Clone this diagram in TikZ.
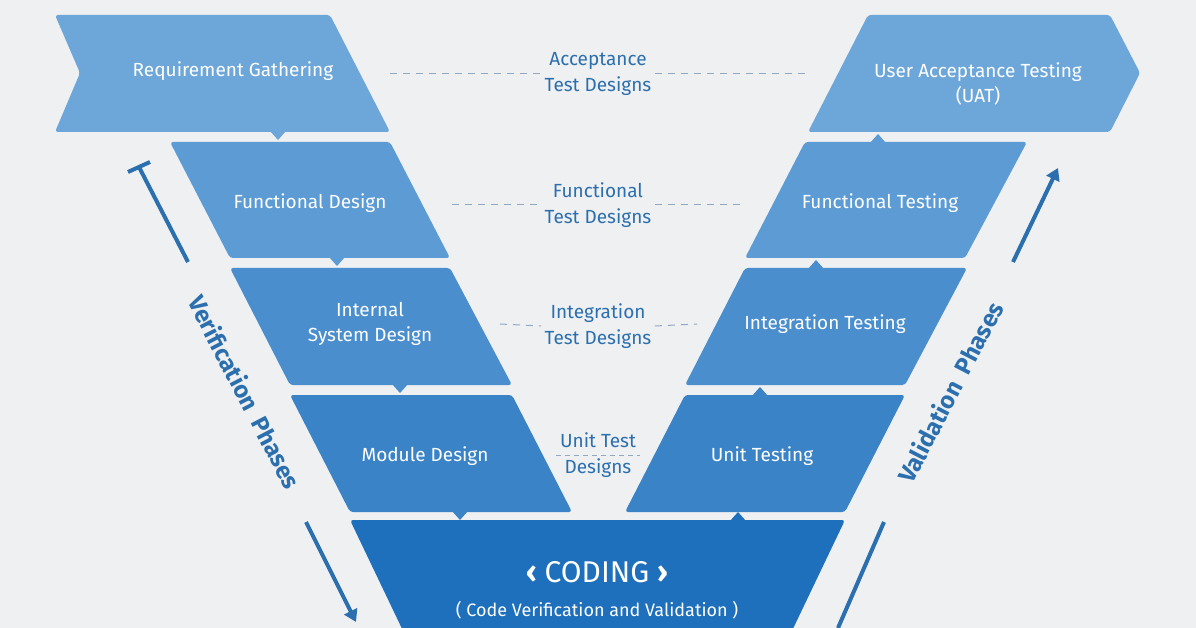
\documentclass[tikz,border=0pt]{standalone}
\usepackage{fontspec}
\setmainfont{Fira Sans}
\usetikzlibrary{arrows.meta,calc}
\definecolor{bg}{HTML}{EEF0F2}
\definecolor{cA}{HTML}{6DA6D8}
\definecolor{cB}{HTML}{5C9BD4}
\definecolor{cC}{HTML}{4A8ECE}
\definecolor{cD}{HTML}{3A83C7}
\definecolor{cE}{HTML}{1E6FBC}
\definecolor{lab}{HTML}{2C6FAE}
\definecolor{dashc}{HTML}{8FA9C2}
\begin{document}
\begin{tikzpicture}[x=1pt,y=-1pt,
  blk/.style={line join=round,rounded corners=3pt},
  txt/.style={text=white,font=\fontsize{19}{25}\selectfont,align=center},
  mid/.style={text=lab,font=\fontsize{19}{26}\selectfont,align=center},
  dl/.style={draw=dashc,line width=1pt,dash pattern=on 7pt off 6pt},
  ph/.style={draw=lab,line width=4pt},
  pht/.style={text=lab,font=\bfseries\fontsize{24}{28}\selectfont}]
\fill[bg] (0,0) rectangle (1196,628);
\useasboundingbox (0,0) rectangle (1196,628);
% left side
\fill[cA,blk] (55,15) -- (330,15) -- (390,132) -- (55,132) -- (80,73) -- cycle;
\fill[cA] (270,131) -- (286,131) -- (278,140) -- cycle;
\node[txt] (rg) at (233,71) {Requirement Gathering};
\fill[cB,blk] (170,142) -- (390,142) -- (450,258) -- (230,258) -- cycle;
\fill[cB] (329,257) -- (345,257) -- (337,266) -- cycle;
\node[txt] (fd) at (310,203) {Functional Design};
\fill[cC,blk] (230,268) -- (450,268) -- (512,385) -- (290,385) -- cycle;
\fill[cC] (392,384) -- (408,384) -- (400,393) -- cycle;
\node[txt] (isd) at (370,324) {Internal\\System Design};
\fill[cD,blk] (290,395) -- (512,395) -- (572,512) -- (350,512) -- cycle;
\fill[cD] (452,511) -- (468,511) -- (460,520) -- cycle;
\node[txt] (md) at (425,456) {Module Design};
% right side
\fill[cA,blk] (868,15) -- (1110,15) -- (1140,73) -- (1110,132) -- (808,132) -- cycle;
\node[txt] (uat) at (978,84) {User Acceptance Testing\\(UAT)};
\fill[cB,blk] (805,142) -- (1027,142) -- (965,258) -- (745,258) -- cycle;
\fill[cB] (870,143) -- (886,143) -- (878,134) -- cycle;
\node[txt] (ft) at (880,203) {Functional Testing};
\fill[cC,blk] (745,268) -- (967,268) -- (905,385) -- (685,385) -- cycle;
\fill[cC] (808,269) -- (824,269) -- (816,260) -- cycle;
\node[txt] (it) at (825,324) {Integration Testing};
\fill[cD,blk] (685,395) -- (905,395) -- (845,512) -- (625,512) -- cycle;
\fill[cD] (752,396) -- (768,396) -- (760,387) -- cycle;
\node[txt] (ut) at (762,456) {Unit Testing};
% coding
\fill[cE,blk] (350,520) -- (845,520) -- (790,635) -- (405,635) -- cycle;
\fill[cE] (730,521) -- (746,521) -- (738,512) -- cycle;
\node[text=white,font=\fontsize{30}{34}\selectfont] (cod) at (597,572) {{\bfseries‹} CODING {\bfseries›}};
\node[text=white,font=\fontsize{18}{22}\selectfont] (cvv) at (597,610) {( Code Verification and Validation )};
% middle labels
\node[mid] (atd) at (598,74) {Acceptance\\Test Designs};
\node[mid] (ftd) at (598,205) {Functional\\Test Designs};
\node[mid] (itd) at (598,326) {Integration\\Test Designs};
\node[mid] (utd) at (598,455) {Unit Test\\Designs};
\coordinate (a1) at (390,74); \coordinate (a2) at (808,74);
\draw[dl] (a1) -- (atd.west); \draw[dl] (atd.east) -- (a2);
\coordinate (b1) at (452,205); \coordinate (b2) at (745,205);
\draw[dl] (b1) -- (ftd.west); \draw[dl] (ftd.east) -- (b2);
\coordinate (c1) at (500,324); \coordinate (c2) at (697,324);
\draw[dl] (c1) -- (itd.west); \draw[dl] (itd.east) -- (c2);
\coordinate (d1) at (556,455); \coordinate (d2) at (640,455);
\draw[draw=dashc,line width=1pt,dash pattern=on 5pt off 4pt] (d1) -- (d2);
% phases
\coordinate (v0) at (139,167); \coordinate (v1) at (188,262);
\draw[ph] (v0) -- (v1);
\draw[ph] ($(v0)+(-11,5)$) -- ($(v0)+(11,-5)$);
\coordinate (v2) at (306,522); \coordinate (v3) at (356,622);
\draw[ph,-{Triangle[length=12pt,width=14pt]}] (v2) -- (v3);
\node[pht,rotate=-62.5] (vp) at (245,392) {Verification\ \ Phases};
\coordinate (w0) at (884,522); \coordinate (w1) at (838,628);
\coordinate (w2) at (1013,262); \coordinate (w3) at (1058,168);
\draw[ph] (w0) -- (w1);
\draw[ph,-{Triangle[length=12pt,width=14pt]}] (w2) -- (w3);
\node[pht,rotate=62.5] (vap) at (950,392) {Validation\ \ Phases};
\end{tikzpicture}
\end{document}
